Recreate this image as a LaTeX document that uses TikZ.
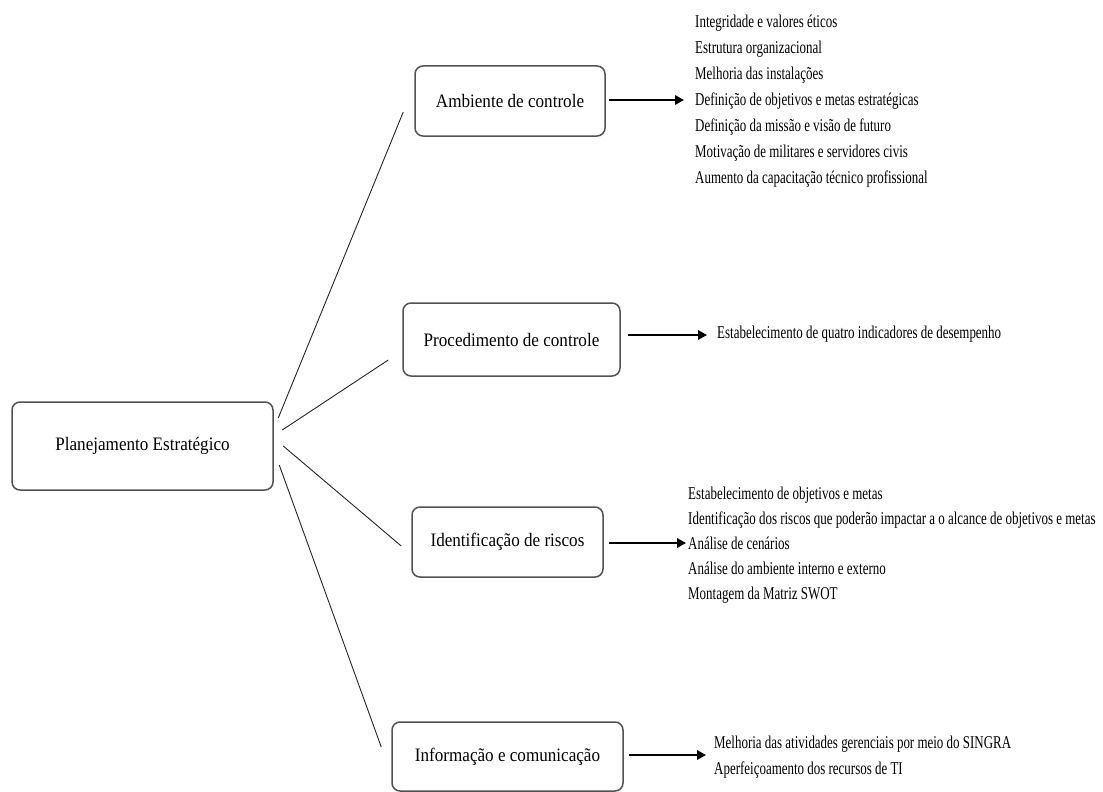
\documentclass[tikz,border=0pt]{standalone}
\usepackage{fontspec}
\setmainfont{Liberation Serif}
\newfontfamily\listfont[FakeStretch=0.72]{Liberation Serif}
\newfontfamily\stagefont[FakeStretch=0.9]{Liberation Serif}
\usetikzlibrary{arrows.meta,calc}

\tikzset{
  stage/.style={draw=black!68, line width=1.5pt, rounded corners=8pt, fill=white,
    inner sep=0pt, align=center, font=\stagefont\fontsize{19}{22}\selectfont},
  link/.style={draw=black!85, line width=0.9pt},
  arr/.style={draw=black, line width=1.8pt, -{Triangle[length=9pt,width=9.5pt]}},
  item/.style={anchor=base west, inner sep=0pt, font=\listfont\fontsize{18}{26}\selectfont}
}

\begin{document}
\begin{tikzpicture}[x=1pt,y=-1pt]
\useasboundingbox[fill=white] (0,0) rectangle (1103,792);

% stages
\node[stage, minimum width=261pt, minimum height=88pt] (main) at (142.5,446) {Planejamento Estratégico};
\node[stage, minimum width=190pt, minimum height=70pt] (amb) at (510,101) {Ambiente de controle};
\node[stage, minimum width=217pt, minimum height=73pt] (proc) at (511.5,339.5) {Procedimento de controle};
\node[stage, minimum width=191pt, minimum height=70pt] (ident) at (507.5,542) {Identificação de riscos};
\node[stage, minimum width=231pt, minimum height=69pt] (info) at (507.5,756.5) {Informação e comunicação};

% links from the central stage
\draw[link] ($(main.east)+(4.5,-28)$) -- ($(amb.west)+(-11,11)$);
\draw[link] ($(main.east)+(8.5,-16)$) -- ($(proc.west)+(-14,20.5)$);
\draw[link] ($(main.east)+(9.5,0)$) -- ($(ident.west)+(-10,4)$);
\draw[link] ($(main.east)+(5.5,19)$) -- ($(info.west)+(-10,-9.5)$);

% item lists
\foreach \t [count=\i] in {Integridade e valores éticos, Estrutura organizacional,
  Melhoria das instalações, Definição de objetivos e metas estratégicas,
  Definição da missão e visão de futuro, Motivação de militares e servidores civis,
  Aumento da capacitação técnico profissional}
  \node[item] (amb-\i) at (695,{28+25.9*(\i-1)}) {\t};

\node[item] (proc-1) at (717,338) {Estabelecimento de quatro indicadores de desempenho};

\foreach \t [count=\i] in {Estabelecimento de objetivos e metas,
  Identificação dos riscos que poderão impactar a o alcance de objetivos e metas,
  Análise de cenários, Análise do ambiente interno e externo, Montagem da Matriz SWOT}
  \node[item] (ident-\i) at (688,{499+25*(\i-1)}) {\t};

\foreach \t [count=\i] in {Melhoria das atividades gerenciais por meio do SINGRA,
  Aperfeiçoamento dos recursos de TI}
  \node[item] (info-\i) at (714,{748+26*(\i-1)}) {\t};

% arrow tips
\coordinate (t1) at (684,100);
\coordinate (t2) at (707,335);
\coordinate (t3) at (686,543);
\coordinate (t4) at (706,755);

\draw[arr] ($(amb.east |- t1)+(3,0)$) -- (t1);
\draw[arr] ($(proc.east |- t2)+(7,0)$) -- (t2);
\draw[arr] ($(ident.east |- t3)+(5,0)$) -- (t3);
\draw[arr] ($(info.east |- t4)+(5,0)$) -- (t4);
\end{tikzpicture}
\end{document}
